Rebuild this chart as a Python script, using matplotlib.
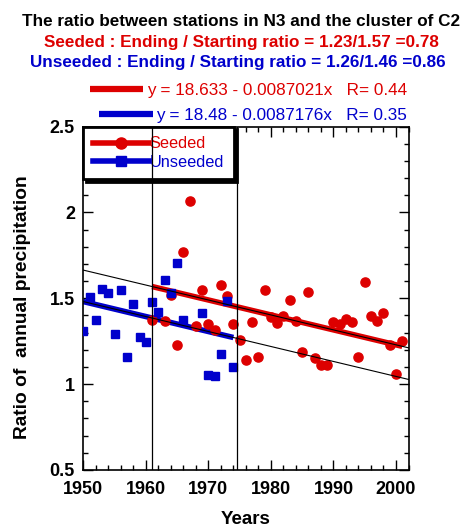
import matplotlib
matplotlib.use('Agg')
import matplotlib.pyplot as plt
from matplotlib.lines import Line2D
from matplotlib.ticker import MultipleLocator
import numpy as np

plt.rcParams['font.family'] = ['Liberation Sans', 'DejaVu Sans']

# ---------------- data ----------------
seeded_years = [1961, 1963, 1964, 1965, 1966, 1967, 1968, 1969, 1970, 1971,
                1972, 1973, 1974, 1975, 1976, 1977, 1978, 1979, 1980, 1981,
                1982, 1983, 1984, 1985, 1986, 1987, 1988, 1989, 1990, 1991,
                1992, 1993, 1994, 1995, 1996, 1997, 1998, 1999, 2000, 2001]
seeded_ratio = [1.376, 1.368, 1.517, 1.227, 1.769, 2.068, 1.339, 1.547, 1.349, 1.318,
                1.580, 1.512, 1.349, 1.256, 1.140, 1.359, 1.159, 1.547, 1.388, 1.357,
                1.395, 1.488, 1.368, 1.188, 1.537, 1.153, 1.110, 1.110, 1.362, 1.349,
                1.382, 1.359, 1.159, 1.595, 1.397, 1.368, 1.417, 1.227, 1.058, 1.250]

unseeded_years = [1950, 1951, 1952, 1953, 1954, 1955, 1956, 1957, 1958, 1959,
                  1960, 1961, 1962, 1963, 1964, 1965, 1966, 1969, 1970, 1971,
                  1972, 1973, 1974]
unseeded_ratio = [1.308, 1.506, 1.376, 1.556, 1.533, 1.289, 1.547, 1.159, 1.465, 1.275,
                  1.246, 1.478, 1.420, 1.609, 1.531, 1.705, 1.376, 1.417, 1.052, 1.048,
                  1.178, 1.484, 1.097]

seeded_fit = [18.633, -0.0087021]      # intercept, slope
unseeded_fit = [18.48, -0.0087176]
period_marks = [1961, 1974.5]

title_lines = ["The ratio between stations in N3 and the cluster of C2",
               "Seeded : Ending / Starting ratio = 1.23/1.57 =0.78",
               "Unseeded : Ending / Starting ratio = 1.26/1.46 =0.86"]
eq_labels = ["y = 18.633 - 0.0087021x   R= 0.44",
             "y = 18.48 - 0.0087176x   R= 0.35"]
series_names = ["Seeded", "Unseeded"]
x_label = "Years"
y_label = "Ratio of  annual precipitation"

RED = '#dd0000'
BLUE = '#0000cc'

W, H = 466, 527
fig = plt.figure(figsize=(W / 100, H / 100), dpi=100)

def fx(px):
    return px / W

def fy(py):
    return 1 - py / H

ax = fig.add_axes([fx(83.3), fy(470), fx(408.5) - fx(83.3), fy(126.5) - fy(470)])
ax.set_xlim(1950, 2002)
ax.set_ylim(0.5, 2.5)

# thick regression lines over data range
xs = np.array([min(seeded_years), max(seeded_years)])
ax.plot(xs, seeded_fit[0] + seeded_fit[1] * xs, color=RED, lw=4, zorder=2,
        solid_capstyle='butt')
xu = np.array([min(unseeded_years), max(unseeded_years)])
ax.plot(xu, unseeded_fit[0] + unseeded_fit[1] * xu, color=BLUE, lw=4, zorder=2,
        solid_capstyle='butt')

# markers
ax.plot(seeded_years, seeded_ratio, 'o', color=RED, ms=6.6, mec=RED, zorder=3)
ax.plot(unseeded_years, unseeded_ratio, 's', color=BLUE, ms=6.2, mec=BLUE, zorder=3.5)

# thin black full-range regression lines
xa = np.array([1950, 2002])
ax.plot(xa, seeded_fit[0] + seeded_fit[1] * xa, color='black', lw=0.8, zorder=4)
ax.plot(xa, unseeded_fit[0] + unseeded_fit[1] * xa, color='black', lw=0.8, zorder=4)

for m in period_marks:
    ax.axvline(m, color='black', lw=0.9, zorder=7)

# ticks
ax.xaxis.set_major_locator(MultipleLocator(10))
ax.xaxis.set_minor_locator(MultipleLocator(2))
ax.yaxis.set_major_locator(MultipleLocator(0.5))
ax.yaxis.set_minor_locator(MultipleLocator(0.1))
ax.tick_params(which='both', direction='in', top=True, right=True, width=1)
ax.tick_params(which='major', length=7)
ax.tick_params(which='minor', length=3.5)
ax.tick_params(axis='x', which='major', pad=8, labelsize=13)
ax.tick_params(axis='y', which='major', pad=6, labelsize=13)
ax.set_yticks([0.5, 1.0, 1.5, 2.0, 2.5])
ax.set_yticklabels(['0.5', '1', '1.5', '2', '2.5'])
for lab in ax.get_xticklabels() + ax.get_yticklabels():
    lab.set_fontweight('bold')
for sp in ax.spines.values():
    sp.set_linewidth(1.2)

ax.set_xlabel(x_label, fontsize=13.5, fontweight='bold', labelpad=9)
ax.set_ylabel(y_label, fontsize=13.8, fontweight='bold')
ax.yaxis.set_label_coords(-0.162, 0.475)

# legend
handles = [Line2D([], [], color=RED, lw=4, marker='o', ms=8),
           Line2D([], [], color=BLUE, lw=4, marker='s', ms=7.5)]
leg = ax.legend(handles, series_names, loc='upper left', bbox_to_anchor=(0, 1),
                borderaxespad=0, fontsize=11.8, handlelength=3.4, handletextpad=0.05,
                labelspacing=0.2, borderpad=0.6, fancybox=False, framealpha=1,
                edgecolor='black', shadow={'color': 'black', 'alpha': 1})
leg.get_frame().set_linewidth(2)
leg.set_zorder(6)
for t, c in zip(leg.get_texts(), [RED, BLUE]):
    t.set_color(c)

# titles
fig.text(fx(241.5), fy(26), title_lines[0], ha='center', va='baseline',
         fontsize=12.3, fontweight='bold', color='black')
fig.text(fx(241.7), fy(46.7), title_lines[1], ha='center', va='baseline',
         fontsize=12.3, fontweight='bold', color=RED)
fig.text(fx(237.5), fy(66.7), title_lines[2], ha='center', va='baseline',
         fontsize=12.3, fontweight='bold', color=BLUE)

# equation legend
fig.add_artist(Line2D([fx(90), fx(143)], [fy(89), fy(89)], color=RED, lw=4.5,
                      solid_capstyle='butt'))
fig.text(fx(407), fy(95.5), eq_labels[0], ha='right', va='baseline',
         fontsize=12.3, color=RED)
fig.add_artist(Line2D([fx(99), fx(153)], [fy(114), fy(114)], color=BLUE, lw=4.5,
                      solid_capstyle='butt'))
fig.text(fx(407), fy(120), eq_labels[1], ha='right', va='baseline',
         fontsize=12.3, color=BLUE)

fig.savefig('out.png', dpi=100)
